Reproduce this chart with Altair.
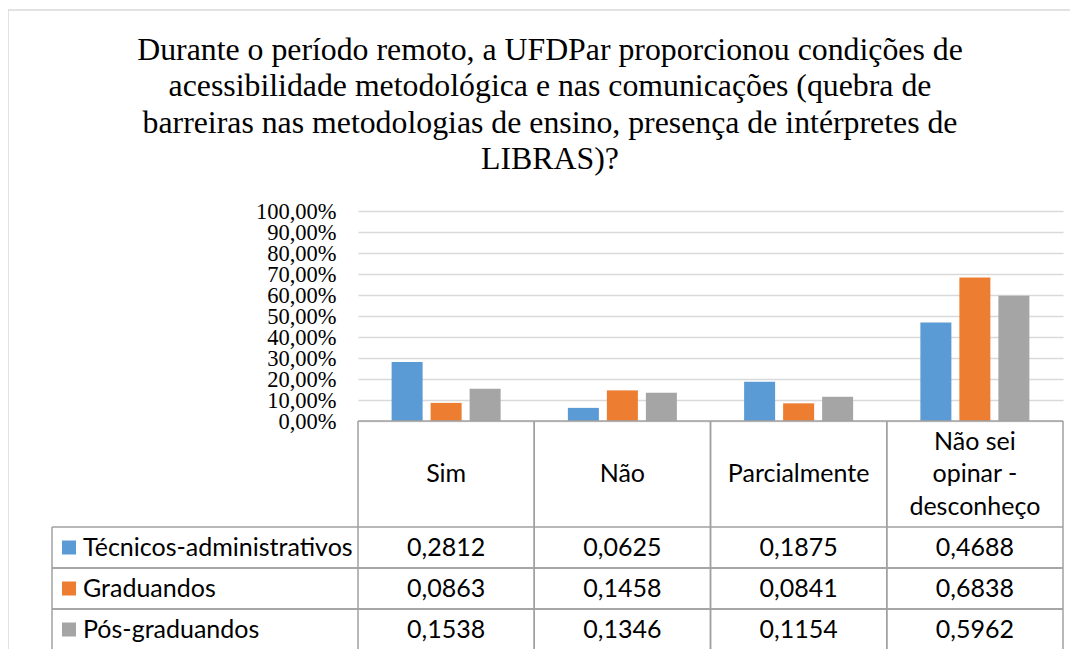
import altair as alt
import pandas as pd

# ---- data ----
categories = ["Sim", "Não", "Parcialmente", "Não sei opinar - desconheço"]
header_labels = ["Sim", "Não", "Parcialmente", "Não sei\nopinar -\ndesconheço"]
series = ["Técnicos-administrativos", "Graduandos", "Pós-graduandos"]
tecnicos = [0.2812, 0.0625, 0.1875, 0.4688]
graduandos = [0.0863, 0.1458, 0.0841, 0.6838]
pos_graduandos = [0.1538, 0.1346, 0.1154, 0.5962]
y_ticks = [0, 0.1, 0.2, 0.3, 0.4, 0.5, 0.6, 0.7, 0.8, 0.9, 1.0]
colors = ["#5B9BD5", "#ED7D31", "#A5A5A5"]
title_text = ("Durante o período remoto, a UFDPar proporcionou condições de\n"
              "acessibilidade metodológica e nas comunicações (quebra de\n"
              "barreiras nas metodologias de ensino, presença de intérpretes de\n"
              "LIBRAS)?")

rows = []
for s, vals in zip(series, [tecnicos, graduandos, pos_graduandos]):
    for c, v in zip(categories, vals):
        rows.append({"cat": c, "series": s, "value": v})
df = pd.DataFrame(rows)
df_cats = pd.DataFrame({"cat": categories, "header": header_labels})
df_series = pd.DataFrame({"series": series})

SERIF = "Liberation Serif"
SANS = "Lato"
TFS = 25
LINE = "#A0A0A0"

x_scale = alt.Scale(domain=categories, paddingInner=0, paddingOuter=0)
y_scale = alt.Scale(domain=[0, 1])
row_scale = alt.Scale(domain=series, range=[316, 439], paddingInner=0, paddingOuter=0)
color_scale = alt.Scale(domain=series, range=colors)

frame = alt.Chart(pd.DataFrame({"a": [0]})).mark_rect(
    fill=None, stroke="#D9D9D9", strokeWidth=1.5
).encode(
    x=alt.value(-350), y=alt.value(-201), x2=alt.value(2000), y2=alt.value(2000)
)

title = alt.Chart(pd.DataFrame({"t": [title_text]})).mark_text(
    font=SERIF, fontSize=31.8, lineBreak="\n", lineHeight=36.6,
    align="center", baseline="alphabetic", color="black"
).encode(x=alt.value(192), y=alt.value(-151.5), text="t:N")

bars = alt.Chart(df).mark_bar().encode(
    x=alt.X("cat:N", sort=categories, scale=x_scale, axis=None),
    xOffset=alt.XOffset("series:N", sort=series,
                        scale=alt.Scale(domain=series, paddingInner=0.205, paddingOuter=0.862)),
    y=alt.Y("value:Q", scale=y_scale,
            axis=alt.Axis(values=y_ticks, title=None, ticks=False, domain=False,
                          labelExpr="replace(format(datum.value, '.2%'), '.', ',')",
                          labelFont=SERIF, labelFontSize=22.5, labelColor="black",
                          labelPadding=22, gridColor="#D9D9D9", gridWidth=1.3,
                          labelOverlap=False)),
    color=alt.Color("series:N", scale=color_scale, legend=None),
)

baseline = alt.Chart(df_cats).mark_rule(color=LINE, strokeWidth=1.5).encode(
    x=alt.X("cat:N", sort=categories, scale=x_scale, bandPosition=0, axis=None),
    x2=alt.X2("cat:N", bandPosition=1),
    y=alt.value(210),
)

vlines_left = alt.Chart(df_cats).mark_rule(color=LINE, strokeWidth=1.5).encode(
    x=alt.X("cat:N", sort=categories, scale=x_scale, bandPosition=0, axis=None),
    y=alt.value(210), y2=alt.value(439),
)
vlines_right = alt.Chart(df_cats).mark_rule(color=LINE, strokeWidth=1.5).encode(
    x=alt.X("cat:N", sort=categories, scale=x_scale, bandPosition=1, axis=None),
    y=alt.value(210), y2=alt.value(439),
)
legend_left = alt.Chart(df_series).mark_rule(color=LINE, strokeWidth=1.5).encode(
    x=alt.value(-306),
    y=alt.Y("series:N", scale=row_scale, bandPosition=0, axis=None),
    y2=alt.Y2("series:N", bandPosition=1),
)
hlines_top = alt.Chart(df_series).mark_rule(color=LINE, strokeWidth=1.5).encode(
    x=alt.value(-306), x2=alt.value(705),
    y=alt.Y("series:N", scale=row_scale, bandPosition=0, axis=None),
)
hlines_bottom = alt.Chart(df_series).mark_rule(color=LINE, strokeWidth=1.5).encode(
    x=alt.value(-306), x2=alt.value(705),
    y=alt.Y("series:N", scale=row_scale, bandPosition=1, axis=None),
)

header = alt.Chart(df_cats).transform_calculate(
    nlines="length(split(datum.header, '\\n'))"
).mark_text(
    font=SANS, fontSize=TFS, lineBreak="\n", lineHeight=32.5, baseline="middle", color="black"
).encode(
    x=alt.X("cat:N", sort=categories, scale=x_scale, axis=None),
    y=alt.Y("nlines:Q", scale=alt.Scale(domain=[1, 3], range=[263, 230.5]), axis=None),
    text="header:N",
)

cells = alt.Chart(df).transform_calculate(
    label="replace(format(datum.value, '.4f'), '.', ',')"
).mark_text(font=SANS, fontSize=TFS, baseline="middle", color="black").encode(
    x=alt.X("cat:N", sort=categories, scale=x_scale, axis=None),
    y=alt.Y("series:N", scale=row_scale, axis=None),
    text="label:N",
)

swatches = alt.Chart(df_series).mark_square(size=196, opacity=1).encode(
    x=alt.value(-289),
    y=alt.Y("series:N", scale=row_scale, axis=None),
    color=alt.Color("series:N", scale=color_scale, legend=None),
)

legend_text = alt.Chart(df_series).mark_text(
    font=SANS, fontSize=TFS, align="left", baseline="middle", color="black"
).encode(
    x=alt.value(-275),
    y=alt.Y("series:N", scale=row_scale, axis=None),
    text="series:N",
)

chart = alt.layer(
    frame, title, bars, baseline, vlines_left, vlines_right, legend_left,
    hlines_top, hlines_bottom, header, cells, swatches, legend_text
).resolve_scale(y="independent").properties(
    width=705, height=210,
    autosize=alt.AutoSizeParams(type="none"),
    padding={"left": 350, "top": 203, "right": 7, "bottom": 228},
).configure_view(stroke=None)

chart.save("out.html", embed_options={"renderer": "svg", "actions": False})
